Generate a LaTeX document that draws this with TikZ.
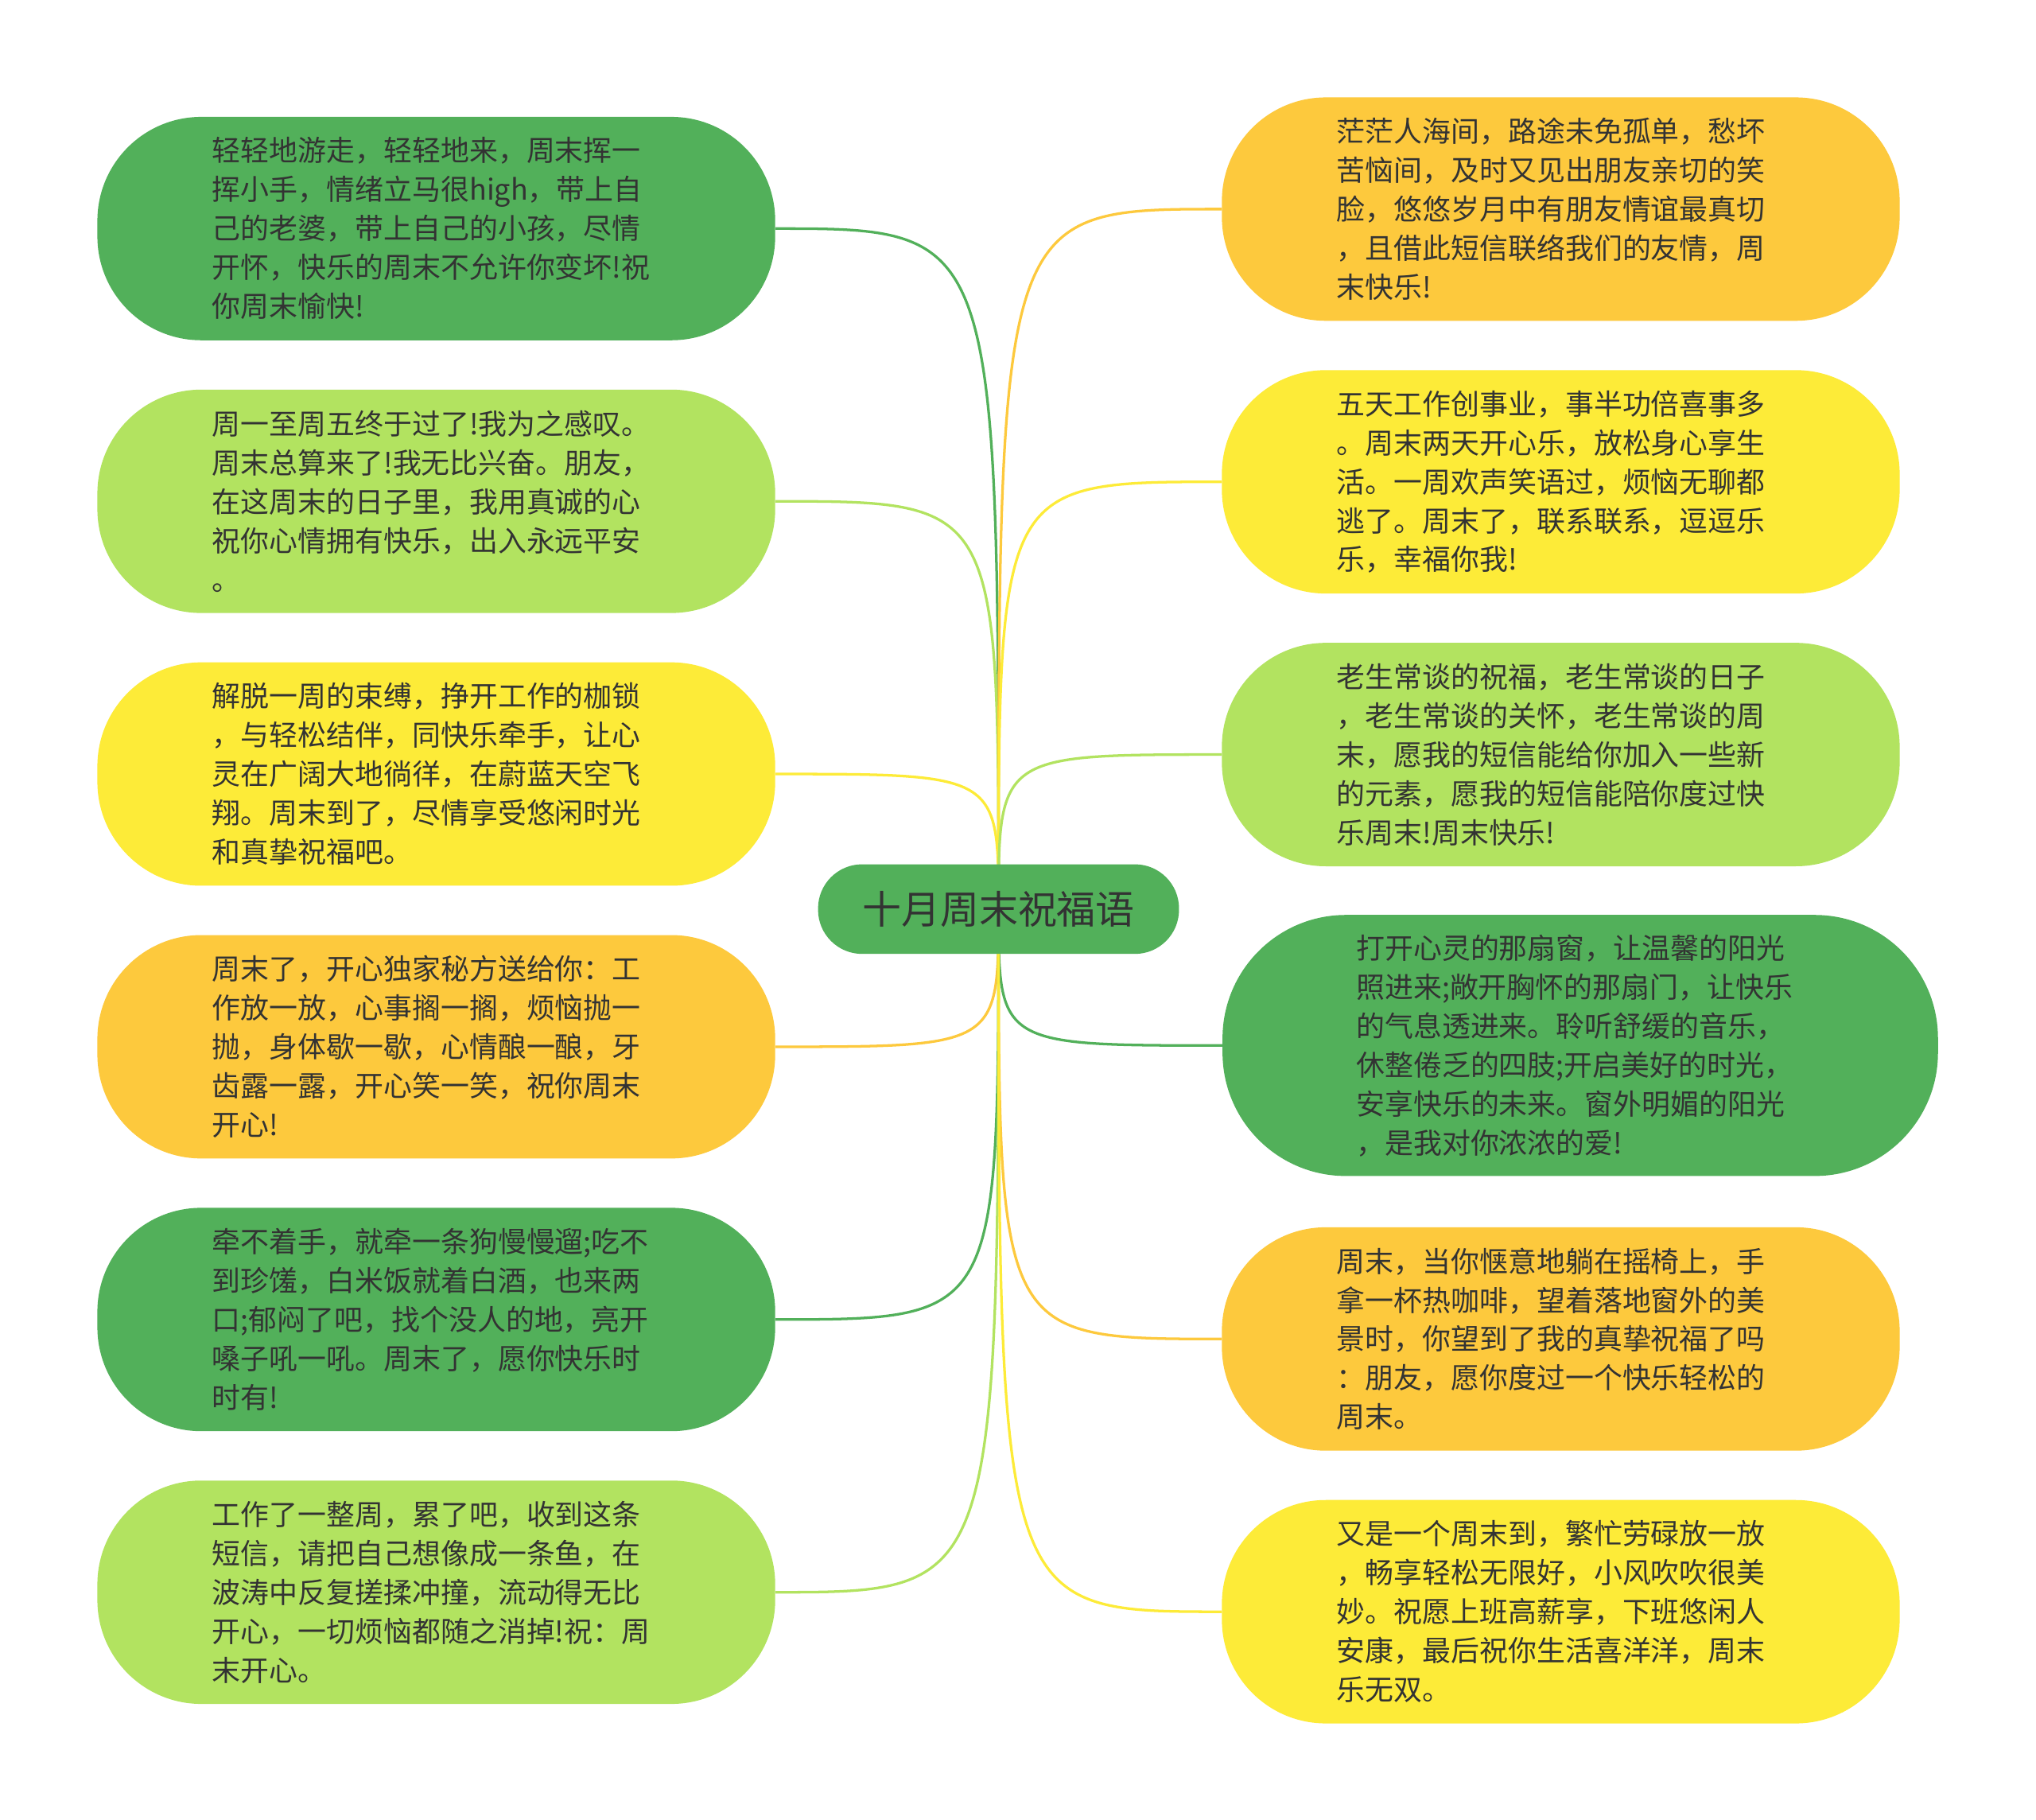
\documentclass[tikz,border=0pt]{standalone}
\usepackage{fontspec}
\newfontfamily\cjk{Noto Sans CJK SC}
\usetikzlibrary{backgrounds}
\definecolor{dgreen}{HTML}{52B05A}
\definecolor{lgreen}{HTML}{B2E360}
\definecolor{myellow}{HTML}{FDEB38}
\definecolor{morange}{HTML}{FDC93D}
\definecolor{txt}{HTML}{333333}

\begin{document}
\begin{tikzpicture}[x=1pt,y=-1pt,
  leaf/.style={rounded corners=80pt, minimum width=522pt, minimum height=172pt,
    text width=345pt, align=left, inner sep=0pt, text=txt,
    font=\cjk\fontsize{22}{30}\selectfont},
  root/.style={rounded corners=34pt, fill=dgreen, minimum width=278pt, minimum height=69pt,
    inner sep=0pt, text=txt, font=\cjk\fontsize{30}{36}\selectfont},
  link/.style={line width=2pt}]

\useasboundingbox (0,0) rectangle (1568,1401);

% centre
\node[root] (c) at (769,700) {十月周末祝福语};

% left side
\node[leaf, fill=dgreen] (l1) at (336,176) {轻轻地游走，轻轻地来，周末挥一\\挥小手，情绪立马很high，带上自\\己的老婆，带上自己的小孩，尽情\\开怀，快乐的周末不允许你变坏!祝\\你周末愉快!};
\node[leaf, fill=lgreen] (l2) at (336,386) {周一至周五终于过了!我为之感叹。\\周末总算来了!我无比兴奋。朋友，\\在这周末的日子里，我用真诚的心\\祝你心情拥有快乐，出入永远平安\\。};
\node[leaf, fill=myellow] (l3) at (336,596) {解脱一周的束缚，挣开工作的枷锁\\，与轻松结伴，同快乐牵手，让心\\灵在广阔大地徜徉，在蔚蓝天空飞\\翔。周末到了，尽情享受悠闲时光\\和真挚祝福吧。};
\node[leaf, fill=morange] (l4) at (336,806) {周末了，开心独家秘方送给你：工\\作放一放，心事搁一搁，烦恼抛一\\抛，身体歇一歇，心情酿一酿，牙\\齿露一露，开心笑一笑，祝你周末\\开心!};
\node[leaf, fill=dgreen] (l5) at (336,1016) {牵不着手，就牵一条狗慢慢遛;吃不\\到珍馐，白米饭就着白酒，也来两\\口;郁闷了吧，找个没人的地，亮开\\嗓子吼一吼。周末了，愿你快乐时\\时有!};
\node[leaf, fill=lgreen] (l6) at (336,1226) {工作了一整周，累了吧，收到这条\\短信，请把自己想像成一条鱼，在\\波涛中反复搓揉冲撞，流动得无比\\开心，一切烦恼都随之消掉!祝：周\\末开心。};

% right side
\node[leaf, fill=morange] (r1) at (1202,161) {茫茫人海间，路途未免孤单，愁坏\\苦恼间，及时又见出朋友亲切的笑\\脸，悠悠岁月中有朋友情谊最真切\\，且借此短信联络我们的友情，周\\末快乐!};
\node[leaf, fill=myellow] (r2) at (1202,371) {五天工作创事业，事半功倍喜事多\\。周末两天开心乐，放松身心享生\\活。一周欢声笑语过，烦恼无聊都\\逃了。周末了，联系联系，逗逗乐\\乐，幸福你我!};
\node[leaf, fill=lgreen] (r3) at (1202,581) {老生常谈的祝福，老生常谈的日子\\，老生常谈的关怀，老生常谈的周\\末，愿我的短信能给你加入一些新\\的元素，愿我的短信能陪你度过快\\乐周末!周末快乐!};
\node[leaf, fill=dgreen, minimum width=551pt, minimum height=201pt, rounded corners=95pt] (r4) at (1217,805) {打开心灵的那扇窗，让温馨的阳光\\照进来;敞开胸怀的那扇门，让快乐\\的气息透进来。聆听舒缓的音乐，\\休整倦乏的四肢;开启美好的时光，\\安享快乐的未来。窗外明媚的阳光\\，是我对你浓浓的爱!};
\node[leaf, fill=morange] (r5) at (1202,1031) {周末，当你惬意地躺在摇椅上，手\\拿一杯热咖啡，望着落地窗外的美\\景时，你望到了我的真挚祝福了吗\\：朋友，愿你度过一个快乐轻松的\\周末。};
\node[leaf, fill=myellow] (r6) at (1202,1241) {又是一个周末到，繁忙劳碌放一放\\，畅享轻松无限好，小风吹吹很美\\妙。祝愿上班高薪享，下班悠闲人\\安康，最后祝你生活喜洋洋，周末\\乐无双。};

% branches
\begin{scope}[on background layer]
\fill[white] (0,0) rectangle (1568,1401);
\foreach \n/\col in {l1/dgreen,l2/lgreen,l3/myellow,l4/morange,l5/dgreen,l6/lgreen} {
\draw[link, \col] (c.center) .. controls (c.center |- \n.east) .. (\n.east);
}
\foreach \n/\col in {r1/morange,r2/myellow,r3/lgreen,r4/dgreen,r5/morange,r6/myellow} {
\draw[link, \col] (c.center) .. controls (c.center |- \n.west) .. (\n.west);
}
\end{scope}

\end{tikzpicture}
\end{document}
